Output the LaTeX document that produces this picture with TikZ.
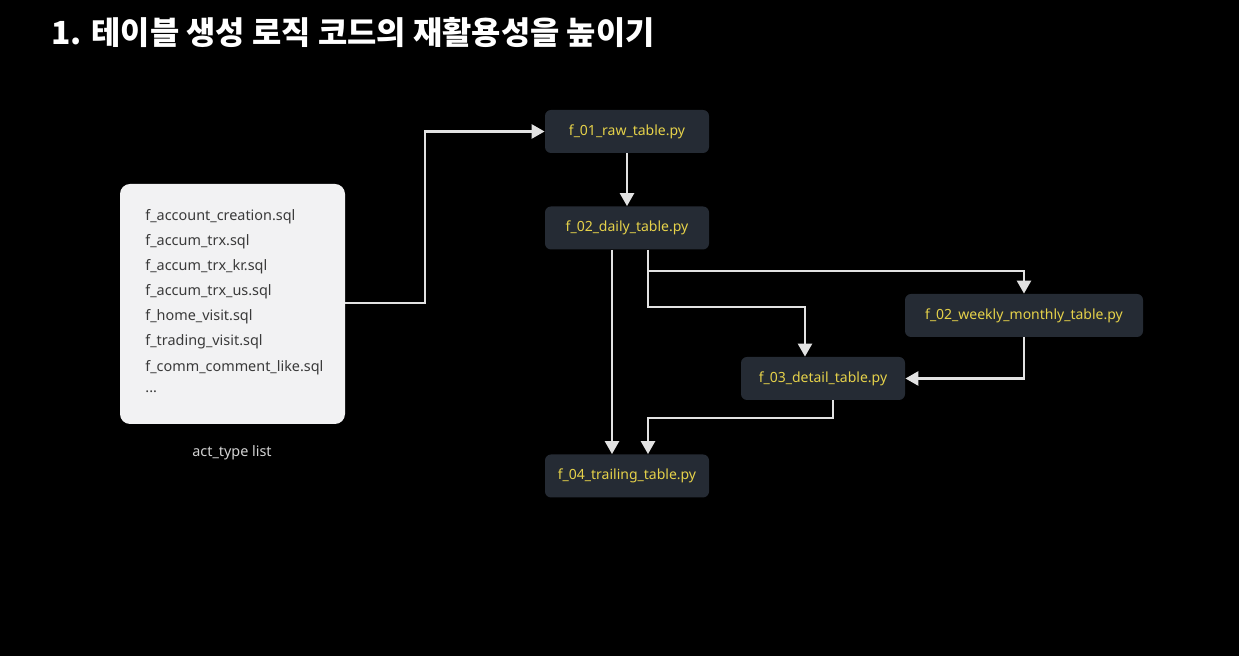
\documentclass[tikz,border=0pt]{standalone}
\usepackage{fontspec}
\setmainfont{Noto Sans}
\newfontfamily\krfont{Noto Sans CJK KR}
\usetikzlibrary{arrows.meta}
\definecolor{bgc}{HTML}{000000}
\definecolor{nodefill}{HTML}{252B34}
\definecolor{nodetext}{HTML}{E6D24A}
\definecolor{linec}{HTML}{E2E2E2}
\definecolor{listfill}{HTML}{F2F2F3}
\definecolor{listtext}{HTML}{3A3A3A}
\tikzset{
  pyfile/.style={fill=nodefill, rounded corners=3pt, minimum height=21.5pt, inner sep=0pt, text=nodetext, font=\fontsize{7.0}{8}\selectfont},
  conn/.style={draw=linec, line width=1.3pt, -{Triangle[width=7pt,length=6.5pt]}},
  listitem/.style={anchor=west, text=listtext, font=\fontsize{7.2}{8}\selectfont, inner sep=0pt},
}
\begin{document}
\begin{tikzpicture}[x=0.5pt,y=-0.5pt]
\fill[bgc] (0,0) rectangle (1239,656);
\useasboundingbox (0,0) rectangle (1239,656);
\node[anchor=west, text=white, font=\krfont\bfseries\fontsize{15.9}{18}\selectfont, inner sep=0pt] (title) at (51,33) {1. 테이블 생성 로직 코드의 재활용성을 높이기};
% list box
\node[fill=listfill, rounded corners=5pt, minimum width=112.5pt, minimum height=120pt, inner sep=0pt] (list) at (232.5,304) {};
\node[listitem] (l1) at (145,216.5) {f\_account\_creation.sql};
\node[listitem] (l2) at (145,241.5) {f\_accum\_trx.sql};
\node[listitem] (l3) at (145,266.5) {f\_accum\_trx\_kr.sql};
\node[listitem] (l4) at (145,291.5) {f\_accum\_trx\_us.sql};
\node[listitem] (l5) at (145,316.5) {f\_home\_visit.sql};
\node[listitem] (l6) at (145,341.5) {f\_trading\_visit.sql};
\node[listitem] (l7) at (145,367.5) {f\_comm\_comment\_like.sql};
\node[listitem] (l8) at (145,392) {...};
\node[text=linec!85!gray, font=\fontsize{7.2}{8}\selectfont, inner sep=0pt] (cap) at (232,452.5) {act\_type list};
% py nodes
\node[pyfile, minimum width=82pt] (raw) at (627,131.5) {f\_01\_raw\_table.py};
\node[pyfile, minimum width=82pt] (daily) at (627,228) {f\_02\_daily\_table.py};
\node[pyfile, minimum width=119pt] (weekly) at (1024,315.5) {f\_02\_weekly\_monthly\_table.py};
\node[pyfile, minimum width=82pt] (detail) at (823,378.5) {f\_03\_detail\_table.py};
\node[pyfile, minimum width=82pt] (trail) at (627,476) {f\_04\_trailing\_table.py};
% connectors
\draw[conn] (list.east |- 0,303) -- (425,303) -- (425,131.5) -- (raw.west);
\draw[conn] (raw.south) -- (daily.north);
\draw[conn] (daily.south -| 612,0) -- (trail.north -| 612,0);
\draw[conn] (daily.south -| 648,0) -- (648,271) -- (1024,271) -- (weekly.north);
\draw[conn] (648,271) -- (648,307) -- (805,307) -- (detail.north -| 805,0);
\draw[conn] (weekly.south) -- (1024,378.5) -- (detail.east);
\draw[conn] (detail.south -| 833,0) -- (833,418) -- (648,418) -- (trail.north -| 648,0);
\end{tikzpicture}
\end{document}
